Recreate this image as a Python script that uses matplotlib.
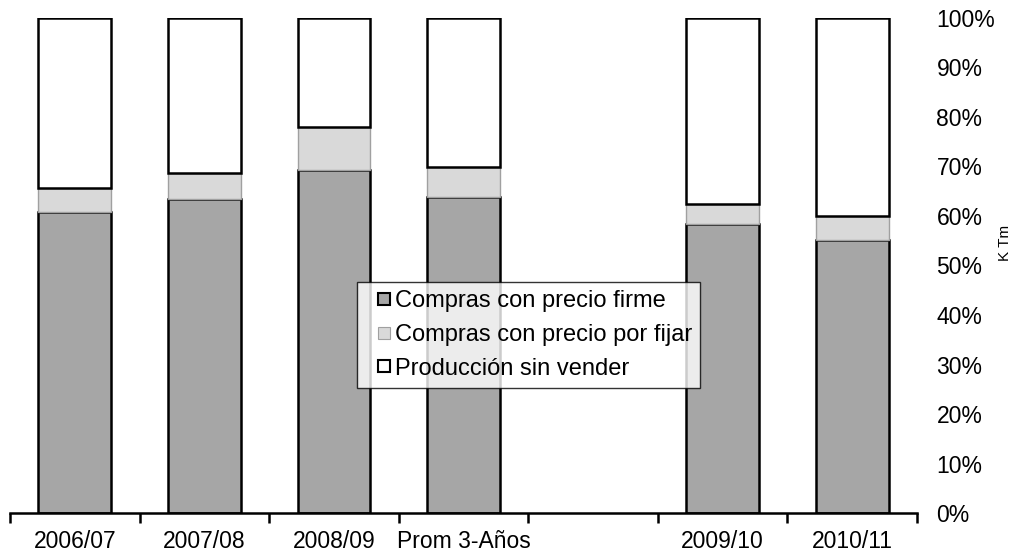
import matplotlib
matplotlib.use("Agg")
import matplotlib.pyplot as plt
from matplotlib.lines import Line2D
import numpy as np

plt.rcParams['font.family'] = ['Liberation Sans', 'DejaVu Sans']

# category slots (the empty one is the gap between Prom and 2009/10)
categories = ['2006/07', '2007/08', '2008/09', 'Prom 3-Años', '', '2009/10', '2010/11']
firme = [60.9, 63.4, 69.2, 63.8, np.nan, 58.4, 55.2]
por_fijar = [4.7, 5.3, 8.8, 6.1, np.nan, 4.0, 4.8]
sin_vender = [100 - a - b for a, b in zip(firme, por_fijar)]

labels = ['Compras con precio firme', 'Compras con precio por fijar', 'Producción sin vender']
colors = ['#a6a6a6', '#d9d9d9', '#ffffff']
edges = ['black', '#a0a0a0', 'black']

fig = plt.figure(figsize=(10.18, 5.53), dpi=100)
ax = fig.add_axes([0.0098, 0.0723, 0.8910, 0.8952])

idx = [i for i, c in enumerate(categories) if c]
x = np.array(idx, dtype=float)
f = np.array([firme[i] for i in idx])
p = np.array([por_fijar[i] for i in idx])
s = np.array([sin_vender[i] for i in idx])

w = 0.56
ax.bar(x, f, w, color=colors[0], edgecolor=edges[0], linewidth=1.8)
ax.bar(x, p, w, bottom=f, color=colors[1], edgecolor=edges[1], linewidth=1.0)
ax.bar(x, s, w, bottom=f + p, color=colors[2], edgecolor=edges[2], linewidth=1.8)

ax.set_xlim(-0.5, len(categories) - 0.5)
ax.set_ylim(0, 100)

for sp in ['top', 'left', 'right']:
    ax.spines[sp].set_visible(False)
ax.spines['bottom'].set_linewidth(1.8)

ax.set_xticks(range(len(categories)))
ax.set_xticklabels(categories, fontsize=16.5)
ax.set_xticks(np.arange(-0.5, len(categories)), minor=True)
ax.tick_params(axis='x', which='major', length=0, pad=12)
ax.tick_params(axis='x', which='minor', length=7, width=1.8, direction='out')

ax.yaxis.tick_right()
ax.set_yticks(range(0, 101, 10))
ax.set_yticklabels([f'{v}%' for v in range(0, 101, 10)], fontsize=16.5)
ax.tick_params(axis='y', length=0, pad=14)
ax.set_ylabel('K Tm', fontsize=11)
ax.yaxis.set_label_position('right')
ax.yaxis.set_label_coords(1.089, 0.545)

handles = [Line2D([], [], linestyle='none', marker='s', markersize=8,
                  markerfacecolor=c, markeredgecolor=e,
                  markeredgewidth=1.5 if e == 'black' else 0.8)
           for c, e in zip(colors, edges)]
leg = ax.legend(handles, labels, loc='lower left', bbox_to_anchor=(0.3826, 0.2525),
                borderaxespad=0, fontsize=17, frameon=True, fancybox=False,
                handlelength=1.55, handletextpad=-0.3,
                labelspacing=0.5, borderpad=0.35)
leg.get_frame().set_edgecolor('black')
leg.get_frame().set_linewidth(1.0)

fig.savefig('out.png', dpi=100)
